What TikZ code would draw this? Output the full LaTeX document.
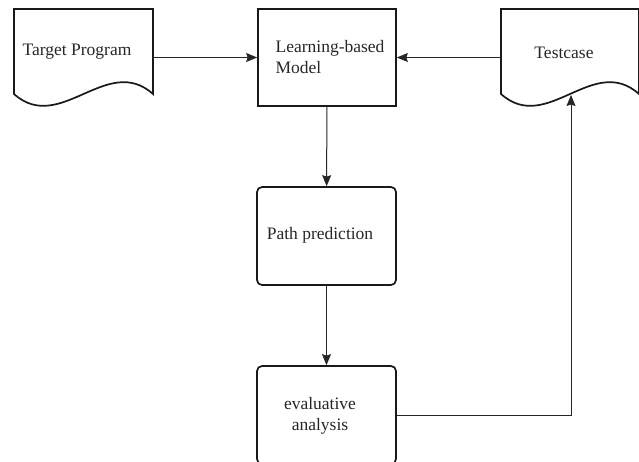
\documentclass[tikz,border=0pt]{standalone}
\usepackage{fontspec}
\setmainfont{Liberation Serif}
\usetikzlibrary{arrows.meta}
\begin{document}
\begin{tikzpicture}[x=1pt,y=-1pt,
 box/.style={draw=black!90,line width=1.7pt},
 conn/.style={draw=black!85,line width=1pt,-{Stealth[length=11pt,width=9pt,inset=1.5pt]}},
 lbl/.style={font=\fontsize{17.5}{21}\selectfont,inner sep=0pt,text=black!85},
 blk/.style={box,minimum width=139pt,minimum height=98pt,inner sep=0pt}
]
\useasboundingbox (0,0) rectangle (639,461);
\clip (0,0) rectangle (639,461);
% document shapes
\draw[box,line join=miter] (14,94) -- (14,9) -- (153,9) -- (153,94) .. controls (107,53) and (60,135) .. cycle;
\node[lbl] (tp) at (77,52) {Target Program};
\coordinate (tpE) at (153,57.5);
\draw[box,line join=miter] (501,94) -- (501,9) -- (639,9) -- (639,94) .. controls (593,53) and (547,135) .. cycle;
\node[lbl] (tc) at (564,53) {Testcase};
\coordinate (tcW) at (501,57.5);
\coordinate (tcB) at (571,95);
% boxes
\node[blk,minimum width=138pt,minimum height=97pt] (lm) at (327,57.5) {};
\node[lbl,align=left] (lmT) at (330,57) {Learning-based\\Model};
\node[blk,rounded corners=5pt] (pp) at (326.5,236) {};
\node[lbl] (ppT) at (320,235) {Path prediction};
\node[blk,rounded corners=5pt] (ea) at (326.5,415) {};
\node[lbl,align=center] (eaT) at (320,416) {evaluative\\analysis};
% connectors
\draw[conn] (tpE) -- (lm.west);
\draw[conn] (tcW) -- (lm.east);
\draw[conn] (lm) -- (pp);
\draw[conn] (pp) -- (ea);
\draw[conn] (ea.east) -| (tcB);
\end{tikzpicture}
\end{document}
